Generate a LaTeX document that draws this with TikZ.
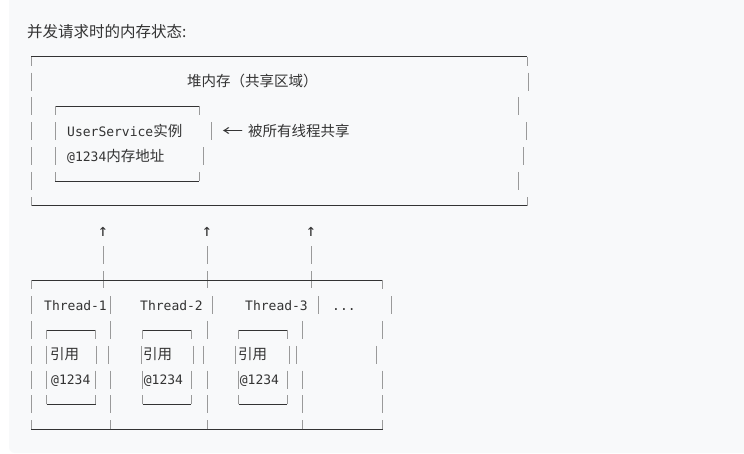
\documentclass[tikz,border=0pt]{standalone}
\usepackage{fontspec}
\setmainfont{Noto Sans CJK SC}
\setmonofont{DejaVu Sans Mono}
\newfontfamily\cjk{Noto Sans CJK SC}
\definecolor{codebg}{HTML}{F8F9FA}
\definecolor{ink}{HTML}{333333}
\definecolor{glyphbar}{HTML}{9A9A9A}
% CJK text inside the code block
\newcommand{\zh}[1]{{\cjk\fontsize{14.5}{14.5}\selectfont #1}}
% one box-drawing bar in a text row
\newcommand{\vseg}[2]{\draw[vbar] (#1,{ry(#2)-9}) -- (#1,{ry(#2)+9});}
% top and bottom edges: x1, x2, row
\newcommand{\topedge}[3]{%
  \draw[hline] (#1,{ry(#3)}) -- (#2,{ry(#3)});
  \draw[vbar] (#1,{ry(#3)}) -- (#1,{ry(#3)+9}) (#2,{ry(#3)}) -- (#2,{ry(#3)+9});}
\newcommand{\botedge}[3]{%
  \draw[hline] (#1,{ry(#3)}) -- (#2,{ry(#3)});
  \draw[vbar] (#1,{ry(#3)}) -- (#1,{ry(#3)-9}) (#2,{ry(#3)}) -- (#2,{ry(#3)-9});}

\begin{document}
\begin{tikzpicture}[x=1pt, y=-1pt,
  declare function={ry(\i)=32+24.83*\i;},
  hline/.style={draw=black!80, line width=0.7pt},
  vbar/.style={draw=glyphbar, line width=0.9pt},
  code/.style={anchor=base west, inner sep=0pt, text=ink, font=\fontsize{13}{13}\ttfamily},
]
  \useasboundingbox (0,0) rectangle (744,454);
  % page and code block background
  \fill[white] (0,0) rectangle (744,454);
  \fill[codebg, rounded corners=6pt] (9,-10) rectangle (760,453);

  % title
  \node[anchor=base west, inner sep=0pt, text=ink, font=\fontsize{15.5}{15.5}\selectfont]
    (title) at (27,37.5) {并发请求时的内存状态:};

  % heap (outer box)
  \topedge{31}{527}{1}
  \foreach \r in {2,...,6} {\vseg{31}{\r}}
  \foreach \x/\r in {528/2, 518.7/3, 526/4, 523/5, 518.7/6} {\vseg{\x}{\r}}
  \botedge{31}{527}{7}
  \node[code] (heap) at (187,{ry(2)+5}) {\zh{堆内存（共享区域）}};

  % service instance (inner box)
  \topedge{55}{199.3}{3}
  \foreach \r in {4,5} {\vseg{55}{\r}}
  \vseg{211}{4}
  \vseg{203}{5}
  \botedge{55}{199.3}{6}
  \node[code] (svc) at (67,{ry(4)+5}) {UserService\zh{实例}};
  \node[code] (addr) at (67,{ry(5)+5}) {@1234\zh{内存地址}};
  \node[code] (shared) at (222,{ry(4)+5}) {\zh{\scalebox{1.45}[1]{←}\hspace{5pt}被所有线程共享}};

  % references going up
  \foreach \x/\name in {103/up1, 207/up2, 311/up3} {
    \node[code, anchor=base, font=\fontsize{17}{17}\ttfamily] (\name) at (\x,{ry(8)+6}) {↑};
    \vseg{\x}{9}
    \draw[vbar] (\x,{ry(10)-9}) -- (\x,{ry(10)+8});
  }

  % thread stacks
  \topedge{31}{382.7}{10}
  \foreach \x in {31, 110, 212, 318, 391} {\vseg{\x}{11}}
  \foreach \x in {31, 110, 207.3, 302.7, 382.7} {\vseg{\x}{12} \vseg{\x}{14} \vseg{\x}{15}}
  \foreach \x in {31, 108.3, 203.3, 296.7, 376.7} {\vseg{\x}{13}}
  \botedge{31}{382.7}{16}
  \foreach \x in {110, 207.3, 302.7} {\draw[vbar] (\x,{ry(16)}) -- (\x,{ry(16)-9});}

  % reference boxes
  \foreach \a/\b in {46.7/95.7, 142.7/191, 238.7/287.3} {
    \topedge{\a}{\b}{12}
    \vseg{\a}{14} \vseg{\b}{14}
    \botedge{\a}{\b}{15}
  }
  \foreach \a/\b in {46.7/96.7, 141.7/193.3, 235/289.3} {\vseg{\a}{13} \vseg{\b}{13}}

  \foreach \x/\n in {44/1, 140/2, 245/3} {
    \node[code] (thread\n) at (\x,{ry(11)+5}) {Thread-\n};
  }
  \node[code] (more) at (332,{ry(11)+5}) {...};
  \foreach \x/\n in {50/1, 143/2, 238/3} {
    \node[code] (ref\n) at (\x,{ry(13)+5}) {\zh{引用}};
  }
  \foreach \x/\n in {51/1, 143.7/2, 239.7/3} {
    \node[code] (refaddr\n) at (\x,{ry(14)+5}) {@1234};
  }
\end{tikzpicture}
\end{document}
